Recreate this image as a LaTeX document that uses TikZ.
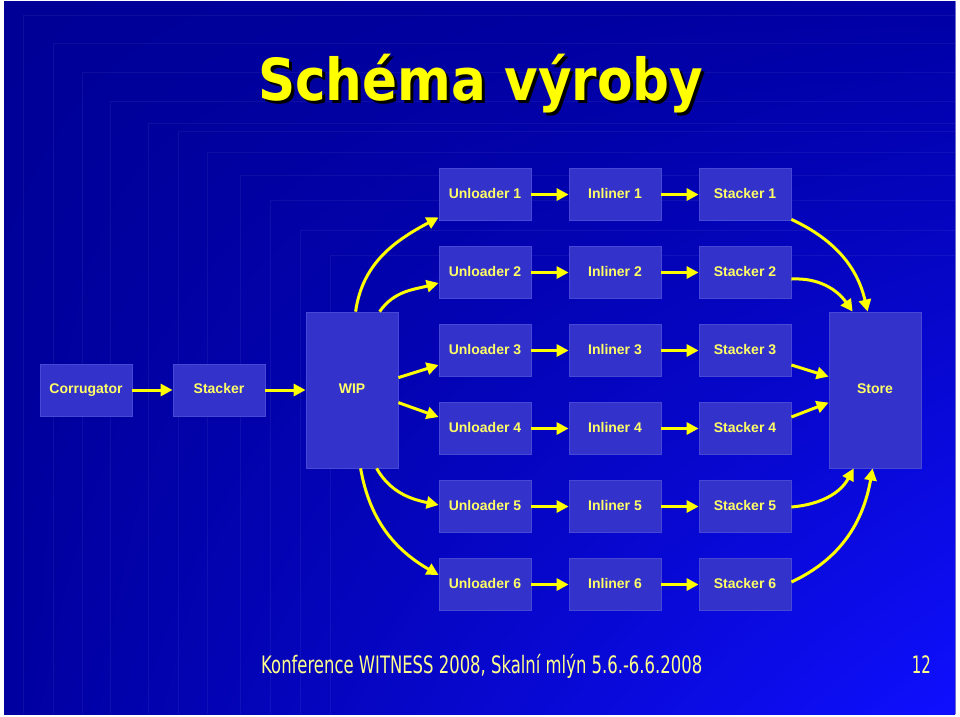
\documentclass[tikz,border=0pt]{standalone}
\usepackage{fontspec}
\setmainfont{Liberation Sans}
\newfontfamily\tahoma{DejaVu Sans}
\usetikzlibrary{arrows.meta,shadings}
\definecolor{boxfill}{RGB}{51,51,204}
\definecolor{boxline}{RGB}{72,72,214}
\definecolor{labelyellow}{RGB}{255,255,102}
\definecolor{arrowyellow}{RGB}{255,255,0}
\definecolor{footyellow}{RGB}{255,255,140}
\definecolor{bgTL}{RGB}{0,0,150}
\definecolor{bgTR}{RGB}{0,0,165}
\definecolor{bgBL}{RGB}{0,0,160}
\definecolor{bgBR}{RGB}{15,15,255}
\tikzset{
  stepbox/.style={rectangle, fill=boxfill, draw=boxline, line width=0.8pt,
    minimum width=92pt, minimum height=52pt, inner sep=0pt,
    text height=10pt, text depth=3pt,
    text=labelyellow, font=\bfseries\fontsize{14}{16}\selectfont},
  tallbox/.style={stepbox, minimum height=156pt},
  flow/.style={draw=arrowyellow, line width=3pt,
    -{Triangle[length=12pt,width=12pt]}},
  bgline/.style={draw=white, opacity=0.055, line width=0.8pt}
}
\begin{document}
\begin{tikzpicture}[x=1pt,y=-1pt]
\useasboundingbox (0,0) rectangle (960,716);
\fill[white] (0,0) rectangle (960,716);
\shade[upper left=bgTL, upper right=bgTR, lower left=bgBL, lower right=bgBR]
  (4,1) rectangle (955,714);
\draw[draw={rgb,255:red,110;green,110;blue,200}, line width=1pt] (955,1) -- (955,714);
% faint background texture
\foreach \xx/\yy in {23/15,53/43,82/72,110/101,148/123,178/131,207/152,240/175,270/200,300/230,330/255}
  {\draw[bgline] (\xx,714) -- (\xx,\yy) -- (955,\yy);}
% title
\node[anchor=base west, inner sep=0pt, text=black] at (261,103)
  {\resizebox{445pt}{\height}{\tahoma\bfseries\fontsize{58}{60}\selectfont Schéma výroby}};
\node[anchor=base west, inner sep=0pt, text=arrowyellow] (title) at (258,100)
  {\resizebox{445pt}{\height}{\tahoma\bfseries\fontsize{58}{60}\selectfont Schéma výroby}};
% boxes
\node[stepbox] (corr) at (86,390) {Corrugator};
\node[stepbox] (stk) at (219,390) {Stacker};
\node[tallbox] (wip) at (352,390) {WIP};
\node[tallbox] (store) at (875,390) {Store};
\foreach \r/\yy in {1/194.5,2/272.5,3/350.5,4/428.5,5/506.5,6/584.5}{
  \node[stepbox] (u\r) at (485,\yy) {Unloader \r};
  \node[stepbox] (i\r) at (615,\yy) {Inliner \r};
  \node[stepbox] (s\r) at (745,\yy) {Stacker \r};
  \draw[flow] (u\r.east) -- (i\r.west);
  \draw[flow] (i\r.east) -- (s\r.west);
}
\draw[flow] (corr.east) -- (stk.west);
\draw[flow] (stk.east) -- (wip.west);
% WIP to unloaders
\draw[flow] ([xshift=50pt]wip.north west) to[out=82,in=208] ([yshift=3.5pt]u1.south west);
\draw[flow] ([xshift=74pt]wip.north west) to[out=55,in=195] ([yshift=-10.5pt]u2.west);
\draw[flow] ([yshift=-66pt]wip.north east) -- ([yshift=-14.5pt]u3.west);
\draw[flow] ([yshift=-91pt]wip.north east) -- ([yshift=11.5pt]u4.west);
\draw[flow] ([xshift=71pt]wip.south west) to[out=-60,in=168] ([yshift=1.5pt]u5.west);
\draw[flow] ([xshift=55pt]wip.south west) to[out=-80,in=150] ([yshift=9.5pt]u6.west);
% stackers to store
\draw[flow] ([yshift=1.5pt]s1.south east) to[out=-25,in=103] ([xshift=39pt]store.north west);
\draw[flow] ([yshift=-6.5pt]s2.east) to[out=3,in=125] ([xshift=24pt]store.north west);
\draw[flow] ([yshift=-14.5pt]s3.east) -- ([yshift=-65pt]store.north west);
\draw[flow] ([yshift=11.5pt]s4.east) -- ([yshift=-91pt]store.north west);
\draw[flow] ([yshift=-0.5pt]s5.east) to[out=5,in=-118] ([xshift=25pt]store.south west);
\draw[flow] ([yshift=2.5pt]s6.east) to[out=25,in=-100] ([xshift=44pt]store.south west);
% footer
\node[anchor=base west, inner sep=0pt, text=footyellow] (foot) at (261,673)
  {\resizebox{441pt}{\height}{\tahoma\fontsize{24}{26}\selectfont Konference WITNESS 2008, Skalní mlýn 5.6.-6.6.2008}};
\node[anchor=base east, inner sep=0pt, text=footyellow] (page) at (931,673)
  {\resizebox{19pt}{\height}{\tahoma\fontsize{24}{26}\selectfont 12}};
\end{tikzpicture}
\end{document}
